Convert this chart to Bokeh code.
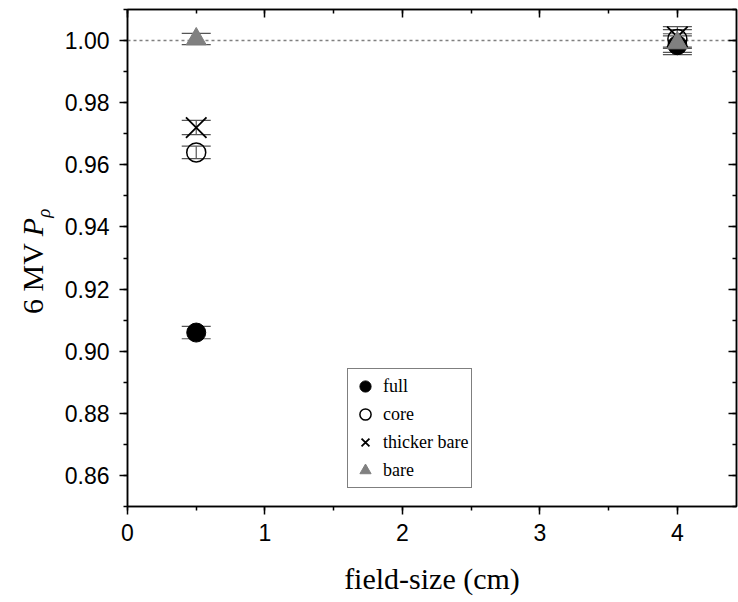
from bokeh.plotting import figure
from bokeh.layouts import row
from bokeh.models import (ColumnDataSource, Whisker, TeeHead, Span, LinearAxis, Div,
                          Range1d, SingleIntervalTicker, Legend, LegendItem,
                          PrintfTickFormatter, CustomJSTickFormatter)
from bokeh.embed import file_html
from bokeh.resources import INLINE

# ---- data ----
field_size = [0.5, 4.0]
full = [0.906, 0.9985]
full_err = [0.002, 0.003]
core = [0.964, 1.0005]
core_err = [0.002, 0.003]
thicker_bare = [0.972, 1.0012]
thicker_bare_err = [0.0023, 0.0033]
bare = [1.0005, 0.9992]
bare_err = [0.0018, 0.003]
reference_level = 1.0

series_names = ["full", "core", "thicker bare", "bare"]
x_label = "field-size (cm)"
y_label_main = "6 MV"
y_label_sym = "P"
y_label_sub = "\u03c1"

TICK_FONT = "Liberation Sans"
SERIF = "Liberation Serif"

LABEL_W = 60

p = figure(width=738 - LABEL_W, height=602, output_backend="svg", toolbar_location=None,
           x_range=Range1d(0, 4.43), y_range=Range1d(0.85, 1.01),
           min_border_left=127 - LABEL_W, min_border_right=2, min_border_top=9,
           min_border_bottom=96, margin=0)
p.grid.visible = False
p.outline_line_color = "black"
p.outline_line_width = 1.5
p.background_fill_color = "white"
p.border_fill_color = "white"

xt = SingleIntervalTicker(interval=1, num_minor_ticks=2)
yt = SingleIntervalTicker(interval=0.02, num_minor_ticks=2)

xa = p.xaxis[0]
xa.ticker = xt
ya = p.yaxis[0]
ya.ticker = yt
ya.formatter = PrintfTickFormatter(format="%.2f")

for ax in (xa, ya):
    ax.axis_line_color = "black"
    ax.axis_line_width = 1.5
    ax.major_tick_line_color = "black"
    ax.major_tick_line_width = 1.5
    ax.minor_tick_line_color = "black"
    ax.minor_tick_line_width = 1.5
    ax.major_tick_out = 8
    ax.major_tick_in = 0
    ax.minor_tick_out = 4
    ax.minor_tick_in = 0
    ax.major_label_text_font = TICK_FONT
    ax.major_label_text_font_size = "23px"
    ax.major_label_text_color = "black"

ya.major_label_standoff = 10
xa.major_label_standoff = 9
xa.axis_label = x_label
xa.axis_label_text_font = SERIF
xa.axis_label_text_font_size = "30px"
xa.axis_label_text_font_style = "normal"
xa.axis_label_standoff = 18
xa.axis_label_text_color = "black"

# mirrored axes (top/right) with inward ticks, no labels
for loc, tk in (("above", xt), ("right", yt)):
    ax = LinearAxis(ticker=tk, formatter=CustomJSTickFormatter(code="return ''"))
    ax.axis_line_color = "black"
    ax.axis_line_width = 1.5
    ax.major_tick_line_width = 1.5
    ax.minor_tick_line_width = 1.5
    ax.major_tick_out = 0
    ax.major_tick_in = 8
    ax.minor_tick_out = 0
    ax.minor_tick_in = 4
    ax.major_label_text_font_size = "1px"
    ax.major_label_standoff = 0
    p.add_layout(ax, loc)

# reference line
p.add_layout(Span(location=reference_level, dimension="width", line_color="gray",
                  line_dash="3 3", line_width=1.5, level="underlay"))

def add_err(vals, errs):
    src = ColumnDataSource(dict(x=field_size,
                                lo=[v - e for v, e in zip(vals, errs)],
                                hi=[v + e for v, e in zip(vals, errs)]))
    w = Whisker(base="x", lower="lo", upper="hi", source=src, level="underlay",
                line_color="#555555", line_width=1.2,
                upper_head=TeeHead(size=29, line_color="#555555", line_width=1.2),
                lower_head=TeeHead(size=29, line_color="#555555", line_width=1.2))
    p.add_layout(w)

for vals, errs in ((full, full_err), (core, core_err), (thicker_bare, thicker_bare_err), (bare, bare_err)):
    add_err(vals, errs)

r_full = p.scatter(field_size, full, marker="circle", size=19, fill_color="black", line_color="black")
r_core = p.scatter(field_size, core, marker="circle", size=19, fill_color=None, line_color="black", line_width=1.5)
r_thick = p.scatter(field_size, thicker_bare, marker="x", size=29, line_color="black", line_width=1.8)
r_bare = p.scatter(field_size, bare, marker="triangle", size=20, fill_color="#808080", line_color="#808080")

legend = Legend(items=[LegendItem(label=n, renderers=[r]) for n, r in
                       zip(series_names, [r_full, r_core, r_thick, r_bare])],
                location=(220, 18), label_text_font=SERIF, label_text_font_size="18px",
                label_text_color="black",
                border_line_color="black", border_line_width=1, padding=3, spacing=0,
                label_height=28, glyph_height=28, glyph_width=28, margin=0,
                label_standoff=4, background_fill_alpha=1)
p.add_layout(legend, "center")

# rotated y-axis title (6 MV P_rho) as real HTML text beside the plot
ylabel_html = (
    '<div style="position:absolute; left:18px; top:314px; transform:rotate(-90deg); '
    'transform-origin:0 0; white-space:nowrap; font-family:\'Liberation Serif\'; '
    'font-size:30px; line-height:30px; color:black;">'
    f'{y_label_main} <i>{y_label_sym}</i>'
    f'<sub style="font-size:19px; font-style:italic; vertical-align:-7px;">{y_label_sub}</sub>'
    '</div>'
)
ylabel = Div(text=ylabel_html, width=LABEL_W, height=602, margin=0,
             styles={"position": "relative", "overflow": "visible"})

layout = row(ylabel, p, spacing=0, margin=0)
open("out.html", "w").write(file_html(layout, INLINE))
